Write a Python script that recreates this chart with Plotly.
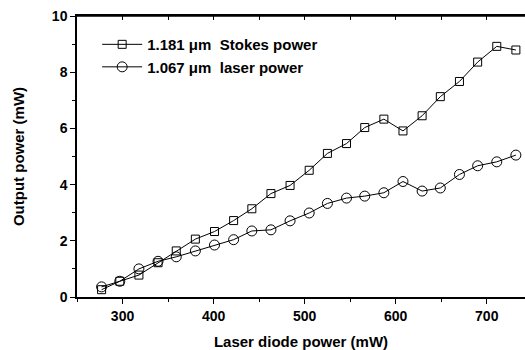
import plotly.graph_objects as go

diode_power = [277, 297, 318, 339, 359, 380, 401, 422, 442, 463, 484, 505,
               525, 546, 566, 587, 608, 629, 649, 670, 690, 711, 732]
stokes_power = [0.26, 0.56, 0.78, 1.22, 1.64, 2.06, 2.33, 2.72, 3.14, 3.68, 3.97, 4.51,
                5.11, 5.46, 6.03, 6.33, 5.91, 6.45, 7.13, 7.67, 8.36, 8.92, 8.79]
laser_power = [0.36, 0.56, 1.00, 1.27, 1.43, 1.64, 1.85, 2.04, 2.35, 2.39, 2.71, 2.99,
               3.33, 3.52, 3.59, 3.71, 4.11, 3.77, 3.88, 4.36, 4.67, 4.81, 5.05]
x_ticks = [300, 400, 500, 600, 700]
x_top_ticks = [250, 300, 350, 400, 450, 500, 550, 600, 650, 700]
y_ticks = [0, 2, 4, 6, 8, 10]
stokes_name = "1.181 \u03bcm  Stokes power"
laser_name = "1.067 \u03bcm  laser power"

FONT = "Liberation Sans, Arial, sans-serif"

fig = go.Figure()
fig.add_trace(go.Scatter(
    x=diode_power, y=stokes_power, name=stokes_name, mode="lines+markers",
    line=dict(color="black", width=1),
    marker=dict(symbol="square-open", size=8, color="black", line=dict(width=1)),
))
fig.add_trace(go.Scatter(
    x=diode_power, y=laser_power, name=laser_name, mode="lines+markers",
    line=dict(color="black", width=1),
    marker=dict(symbol="circle-open", size=10, color="black", line=dict(width=1)),
))
# invisible trace to activate the top axis
fig.add_trace(go.Scatter(
    x=diode_power, y=stokes_power, xaxis="x2", yaxis="y", mode="markers",
    marker=dict(opacity=0), showlegend=False, hoverinfo="skip",
))

fig.update_layout(
    width=525, height=350,
    margin=dict(l=77, r=0, t=16, b=53),
    plot_bgcolor="white", paper_bgcolor="white",
    font=dict(family=FONT, color="black"),
    showlegend=True,
    legend=dict(
        x=0.045, y=0.957, xanchor="left", yanchor="top",
        bgcolor="rgba(0,0,0,0)",
        font=dict(family=FONT, size=15, color="black", weight="bold"),
        tracegroupgap=0, itemwidth=40,
    ),
    xaxis=dict(
        range=[250, 742], tickvals=x_ticks, ticks="outside", ticklen=5,
        tickwidth=1, tickcolor="black",
        minor=dict(dtick=50, tick0=250, ticks="outside", ticklen=3, tickcolor="black"),
        showline=True, linecolor="black", linewidth=1.5,
        showgrid=False, zeroline=False,
        tickfont=dict(family=FONT, size=14, weight="bold"),
        title=dict(text="Laser diode power (mW)", standoff=14,
                   font=dict(family=FONT, size=15, weight="bold")),
    ),
    xaxis2=dict(
        overlaying="x", side="top", anchor="y", range=[250, 742],
        tickvals=x_top_ticks, ticks="inside", ticklen=4, tickwidth=1, tickcolor="black",
        showticklabels=False, showline=True, linecolor="black", linewidth=1.5,
        showgrid=False, zeroline=False,
    ),
    yaxis=dict(
        range=[0, 10], tickvals=y_ticks, ticks="outside", ticklen=5,
        tickwidth=1, tickcolor="black",
        minor=dict(dtick=1, ticks="outside", ticklen=3, tickcolor="black"),
        showline=True, linecolor="black", linewidth=1.5, showgrid=False, zeroline=False,
        tickfont=dict(family=FONT, size=14, weight="bold"),
        title=dict(text="Output power (mW)", standoff=24,
                   font=dict(family=FONT, size=15, weight="bold")),
    ),
    shapes=[dict(type="line", xref="paper", yref="paper", x0=0, x1=1, y0=1, y1=1,
                 layer="above", line=dict(color="black", width=1.5))],
)

fig.write_html("out.html", config={"displayModeBar": False},
               post_script="document.body.style.margin='0';")
